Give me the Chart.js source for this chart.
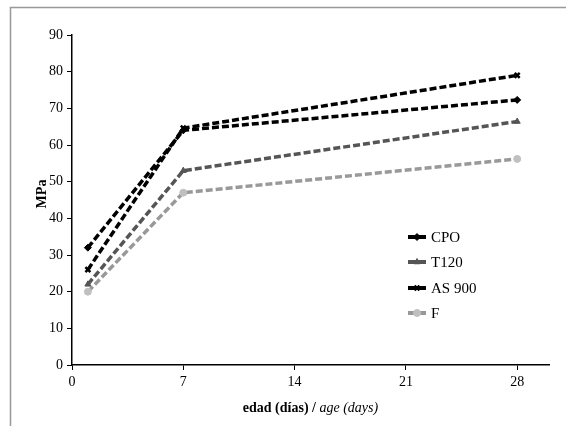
<!DOCTYPE html>
<html>
<head>
<meta charset="utf-8">
<script src="https://cdn.jsdelivr.net/npm/chart.js@4"></script>
<style>
  html, body { margin: 0; padding: 0; background: #fff; }
  #wrap { width: 566px; height: 426px; }
</style>
</head>
<body>
<div id="wrap"><canvas id="chart" width="566" height="426"></canvas></div>
<script>
const days = [1, 7, 28];
const xTicks = [0, 7, 14, 21, 28];

const cpo = [32, 64, 72.3];
const t120 = [22, 53, 66.4];
const as900 = [26, 64.6, 79];
const f = [20, 47, 56.2];

const FONT = "'Liberation Serif', 'Times New Roman', serif";

const toXY = (vals) => vals.map((v, i) => ({ x: days[i], y: v }));

const frame = {
  id: "frame",
  beforeDraw: (chart) => {
    const ctx = chart.ctx;
    ctx.save();
    ctx.strokeStyle = "#999";
    ctx.lineWidth = 1.5;
    ctx.beginPath();
    ctx.moveTo(10.5, 426);
    ctx.lineTo(10.5, 7.5);
    ctx.lineTo(566, 7.5);
    ctx.stroke();
    ctx.restore();
  }
};

const titles = {
  id: "titles",
  afterDraw: (chart) => {
    const ctx = chart.ctx;
    const area = chart.chartArea;
    ctx.save();
    ctx.fillStyle = "#000";
    ctx.textBaseline = "middle";
    // x title, bold + italic parts
    const a = "edad (días) / ";
    const b = "age (days)";
    ctx.font = "bold 14px " + FONT;
    const wa = ctx.measureText(a).width;
    ctx.font = "italic 14px " + FONT;
    const wb = ctx.measureText(b).width;
    const cx = (area.left + area.right) / 2;
    let x0 = cx - (wa + wb) / 2;
    ctx.textAlign = "left";
    ctx.font = "bold 14px " + FONT;
    ctx.fillText(a, x0, 408);
    ctx.font = "italic 14px " + FONT;
    ctx.fillText(b, x0 + wa, 408);
    // y title
    ctx.translate(42, (area.top + area.bottom) / 2 - 6);
    ctx.rotate(-Math.PI / 2);
    ctx.textAlign = "center";
    ctx.font = "bold 14px " + FONT;
    ctx.fillText("MPa", 0, 0);
    ctx.restore();
  }
};

const legendBox = {
  id: "legendBox",
  afterDraw: (chart) => {
    const ctx = chart.ctx;
    const ys = [237, 262, 288, 313];
    ctx.save();
    chart.data.datasets.forEach((ds, i) => {
      const y = ys[i];
      ctx.strokeStyle = ds.borderColor;
      ctx.lineWidth = 4;
      ctx.setLineDash([]);
      ctx.beginPath();
      ctx.moveTo(408, y);
      ctx.lineTo(426, y);
      ctx.stroke();
      ctx.fillStyle = ds.pointBackgroundColor;
      ctx.strokeStyle = ds.pointBorderColor;
      ctx.lineWidth = ds.pointBorderWidth;
      Chart.helpers.drawPoint(ctx, {
        pointStyle: ds.pointStyle,
        radius: ds.pointRadius,
        borderWidth: ds.pointBorderWidth
      }, 417, y);
      ctx.fillStyle = "#000";
      ctx.font = "15px " + FONT;
      ctx.textAlign = "left";
      ctx.textBaseline = "middle";
      ctx.fillText(ds.label, 431, y + 1);
    });
    ctx.restore();
  }
};

const series = (label, data, color, markColor, style, bw) => ({
  label: label,
  data: toXY(data),
  borderColor: color,
  borderWidth: 3.5,
  borderDash: [7, 3],
  pointStyle: style,
  pointRadius: 3.5,
  pointBackgroundColor: markColor,
  pointBorderColor: markColor,
  pointBorderWidth: bw,
  tension: 0,
  fill: false
});

new Chart(document.getElementById("chart").getContext("2d"), {
  type: "line",
  data: {
    datasets: [
      series("CPO", cpo, "#000", "#000", "rectRot", 1),
      series("T120", t120, "#555", "#555", "triangle", 1),
      series("AS 900", as900, "#000", "#000", "crossRot", 2.5),
      series("F", f, "#999", "#c0c0c0", "circle", 1)
    ]
  },
  options: {
    responsive: false,
    animation: false,
    layout: { padding: { left: 0, top: 35, right: 17, bottom: 0 } },
    plugins: {
      legend: { display: false },
      tooltip: { enabled: false }
    },
    scales: {
      x: {
        type: "linear",
        min: 0,
        max: 30,
        afterBuildTicks: (scale) => {
          scale.ticks = xTicks.map(v => ({ value: v }));
        },
        afterFit: (scale) => { scale.height = 61; },
        grid: {
          display: true,
          drawOnChartArea: false,
          drawTicks: true,
          tickLength: 5,
          color: "#000",
          lineWidth: 1
        },
        border: { display: true, color: "#000", width: 1.5 },
        ticks: {
          color: "#000",
          font: { family: FONT, size: 14 },
          padding: 4,
          maxRotation: 0,
          autoSkip: false
        }
      },
      y: {
        min: 0,
        max: 90,
        afterFit: (scale) => { scale.width = 72; },
        grid: {
          display: true,
          drawOnChartArea: false,
          drawTicks: true,
          tickLength: 5,
          color: "#000",
          lineWidth: 1
        },
        border: { display: true, color: "#000", width: 1.5 },
        ticks: {
          stepSize: 10,
          color: "#000",
          font: { family: FONT, size: 14 },
          padding: 4
        }
      }
    }
  },
  plugins: [frame, titles, legendBox]
});
</script>
</body>
</html>
